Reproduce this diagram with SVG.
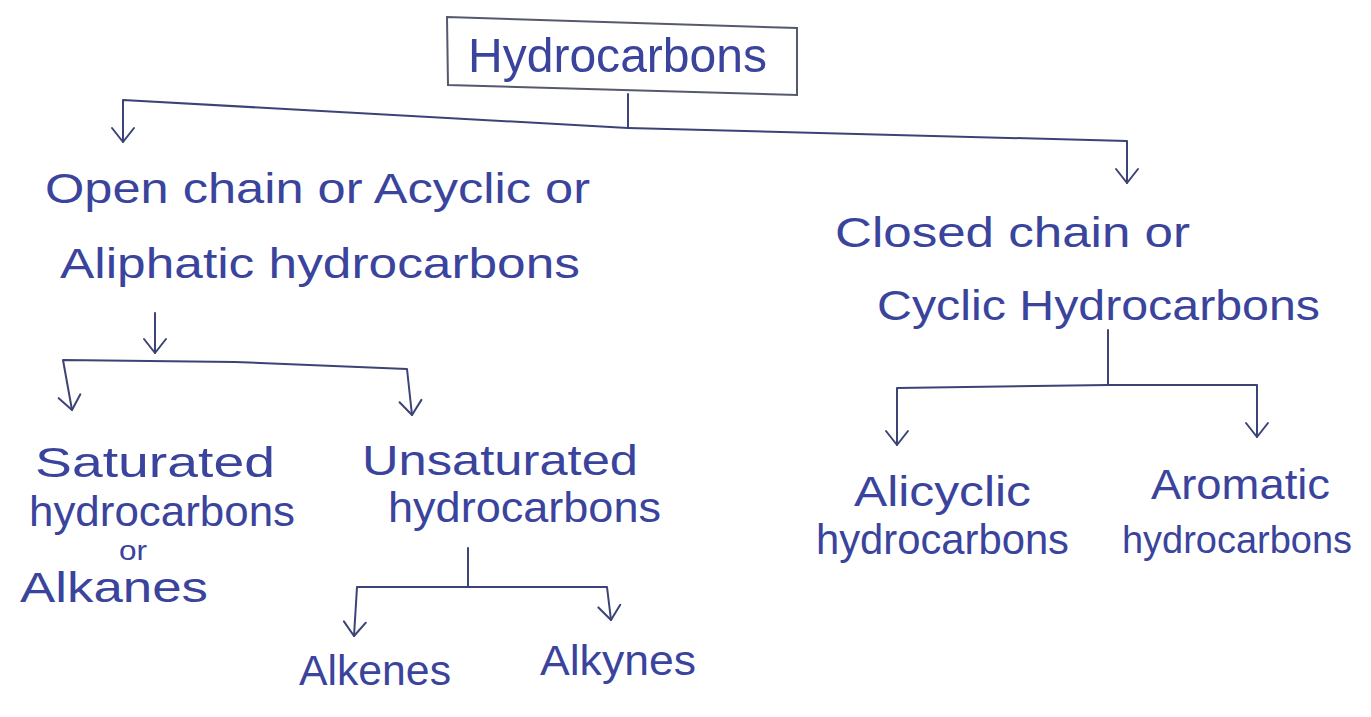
<svg xmlns="http://www.w3.org/2000/svg" width="1371" height="717" viewBox="0 0 1371 717">
<defs>
<style>
.t{font-family:"Liberation Sans","DejaVu Sans",sans-serif;font-size:42px;fill:#3a449c}
.c{fill:none;stroke:#3b4377;stroke-width:2;stroke-linecap:round;stroke-linejoin:round}
.b{fill:none;stroke:#55596e;stroke-width:2}
</style>
<marker id="ah" markerUnits="userSpaceOnUse" orient="auto" refX="0" refY="0" markerWidth="30" markerHeight="30" overflow="visible">
<path d="M-14,-11 L0,0 L-14,11" fill="none" stroke="#3b4377" stroke-width="2" stroke-linecap="round" stroke-linejoin="round"/>
</marker>
</defs>
<rect width="1371" height="717" fill="#ffffff"/>
<g id="connectors">
<path class="c" d="M628,94 L628,128"/>
<path class="c" d="M628,128 L123,100 L123,142" marker-end="url(#ah)"/>
<path class="c" d="M628,128 L1127,141 L1127,183" marker-end="url(#ah)"/>
<path class="c" d="M155,313 L155,353" marker-end="url(#ah)"/>
<path class="c" d="M235,362 L63,360 L72,410" marker-end="url(#ah)"/>
<path class="c" d="M235,362 L407,369 L412,415" marker-end="url(#ah)"/>
<path class="c" d="M468,548 L468,587"/>
<path class="c" d="M468,587 L357,587 L354,636" marker-end="url(#ah)"/>
<path class="c" d="M468,587 L607,587 L611,620" marker-end="url(#ah)"/>
<path class="c" d="M1108,330 L1108,385"/>
<path class="c" d="M1108,385 L897,388 L897,445" marker-end="url(#ah)"/>
<path class="c" d="M1108,385 L1257,385 L1257,437" marker-end="url(#ah)"/>
</g>
<g id="hydrocarbons">
<path class="b" d="M447,17 L797,28 L797,95 L448,85 Z"/>
<text class="t" x="468" y="72" style="font-size:48px" textLength="299" lengthAdjust="spacingAndGlyphs">Hydrocarbons</text>
</g>
<g id="open-chain">
<text class="t" x="45" y="203" textLength="545" lengthAdjust="spacingAndGlyphs">Open chain or Acyclic or</text>
<text class="t" x="60" y="278" textLength="520" lengthAdjust="spacingAndGlyphs">Aliphatic hydrocarbons</text>
</g>
<g id="closed-chain">
<text class="t" x="835" y="247" textLength="355" lengthAdjust="spacingAndGlyphs">Closed chain or</text>
<text class="t" x="877" y="320" textLength="443" lengthAdjust="spacingAndGlyphs">Cyclic Hydrocarbons</text>
</g>
<g id="saturated">
<text class="t" x="35" y="477" textLength="240" lengthAdjust="spacingAndGlyphs">Saturated</text>
<text class="t" x="29" y="526" textLength="266" lengthAdjust="spacingAndGlyphs">hydrocarbons</text>
<text class="t" x="119" y="560" style="font-size:28px" textLength="28" lengthAdjust="spacingAndGlyphs">or</text>
<text class="t" x="20" y="602" textLength="188" lengthAdjust="spacingAndGlyphs">Alkanes</text>
</g>
<g id="unsaturated">
<text class="t" x="362" y="475" textLength="276" lengthAdjust="spacingAndGlyphs">Unsaturated</text>
<text class="t" x="388" y="522" textLength="273" lengthAdjust="spacingAndGlyphs">hydrocarbons</text>
</g>
<g id="alkenes">
<text class="t" x="299" y="685" textLength="152" lengthAdjust="spacingAndGlyphs">Alkenes</text>
</g>
<g id="alkynes">
<text class="t" x="540" y="675" textLength="156" lengthAdjust="spacingAndGlyphs">Alkynes</text>
</g>
<g id="alicyclic">
<text class="t" x="854" y="506" textLength="177" lengthAdjust="spacingAndGlyphs">Alicyclic</text>
<text class="t" x="816" y="554" textLength="253" lengthAdjust="spacingAndGlyphs">hydrocarbons</text>
</g>
<g id="aromatic">
<text class="t" x="1151" y="499" textLength="179" lengthAdjust="spacingAndGlyphs">Aromatic</text>
<text class="t" x="1122" y="553" style="font-size:38px" textLength="230" lengthAdjust="spacingAndGlyphs">hydrocarbons</text>
</g>
</svg>
